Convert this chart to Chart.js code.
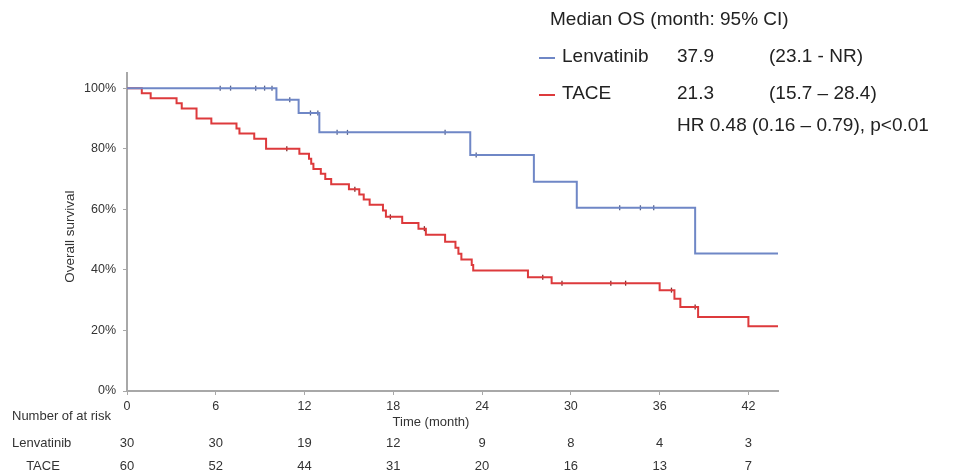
<!DOCTYPE html>
<html>
<head>
<meta charset="utf-8">
<script src="https://cdn.jsdelivr.net/npm/chart.js@4.4.1/dist/chart.umd.min.js"></script>
<style>
  html, body { margin: 0; padding: 0; background: #fff; }
  canvas { display: block; }
</style>
</head>
<body>
<canvas id="km" width="958" height="475"></canvas>
<script>
// tick positions (months) and the numbers at risk below them
const months = [0, 6, 12, 18, 24, 30, 36, 42];
const riskLenvatinib = [30, 30, 19, 12, 9, 8, 4, 3];
const riskTace = [60, 52, 44, 31, 20, 16, 13, 7];

// Kaplan-Meier steps: time of drop (month) and survival (%) after it
const lenvTimes = [0, 10.1, 11.6, 13.0, 23.2, 27.5, 30.4, 38.4, 44];
const lenvSurv = [100, 96.2, 91.8, 85.4, 77.9, 69.1, 60.5, 45.4, 45.4];
const lenvCensored = [6.3, 7.0, 8.7, 9.3, 9.8, 11.0, 12.4, 12.9, 14.2, 14.9, 21.5, 23.6, 33.3, 34.7, 35.6];

const taceTimes = [0, 1.0, 1.6, 3.35, 3.7, 4.7, 5.7, 7.4, 7.6, 8.6,
    9.4, 11.65, 12.3, 12.45, 12.6, 13.1, 13.4, 13.8, 15.0, 15.7,
    16.0, 16.4, 17.3, 17.5, 18.6, 19.7, 20.2, 21.5, 22.2, 22.4,
    22.6, 23.3, 23.4, 27.1, 28.7, 36.0, 37.0, 37.4, 38.6, 42.0, 44];
const taceSurv = [100, 98.3, 96.7, 95.0, 93.3, 90.0, 88.3, 86.7, 85.0, 83.3,
    80.0, 78.3, 76.7, 75.0, 73.3, 71.7, 70.0, 68.3, 66.6, 64.9,
    63.2, 61.5, 59.6, 57.5, 55.5, 53.6, 51.6, 49.3, 47.3, 45.3,
    43.4, 41.6, 39.8, 37.6, 35.6, 33.3, 30.5, 27.7, 24.4, 21.4, 21.4];
const taceCensored = [10.8, 15.4, 17.8, 20.1, 28.1, 29.4, 32.7, 33.7, 36.8, 38.4];

const yTicks = [0, 20, 40, 60, 80, 100];

const BLUE = '#6f87c6';
const RED = '#dd3a3c';
const FONT = "'Liberation Sans', Arial, sans-serif";

function toPoints(times, surv) {
    return times.map((t, i) => ({ x: t, y: surv[i] }));
}

function survivalAt(times, surv, t) {
    let s = surv[0];
    for (let i = 0; i < times.length; i++) {
        if (times[i] <= t) s = surv[i];
    }
    return s;
}

function censorPoints(list, times, surv) {
    return list.map(t => ({ x: t, y: survivalAt(times, surv, t) }));
}

const textPlugin = {
    id: 'kmText',
    afterDraw(chart) {
        const ctx = chart.ctx;
        const x = chart.scales.x;
        const y = chart.scales.y;
        ctx.save();
        ctx.fillStyle = '#333';
        ctx.textBaseline = 'middle';

        // y axis title
        ctx.save();
        ctx.translate(70, (y.getPixelForValue(0) + y.getPixelForValue(100)) / 2 - 3);
        ctx.rotate(-Math.PI / 2);
        ctx.textAlign = 'center';
        ctx.font = '13.5px ' + FONT;
        ctx.fillText('Overall survival', 0, 0);
        ctx.restore();

        // x axis title
        ctx.textAlign = 'center';
        ctx.font = '13px ' + FONT;
        ctx.fillText('Time (month)', 431, 422);

        // numbers at risk
        ctx.textAlign = 'left';
        ctx.fillText('Number of at risk', 12, 416);
        ctx.fillText('Lenvatinib', 12, 443);
        ctx.textAlign = 'center';
        ctx.fillText('TACE', 43, 466);
        months.forEach((m, i) => {
            const px = x.getPixelForValue(m);
            ctx.fillText(String(riskLenvatinib[i]), px, 443);
            ctx.fillText(String(riskTace[i]), px, 466);
        });

        // median OS legend
        ctx.textAlign = 'left';
        ctx.fillStyle = '#222';
        ctx.font = '19px ' + FONT;
        ctx.fillText('Median OS (month: 95% CI)', 550, 20);
        ctx.fillText('Lenvatinib', 562, 57);
        ctx.fillText('37.9', 677, 57);
        ctx.fillText('(23.1 - NR)', 769, 57);
        ctx.fillText('TACE', 562, 94);
        ctx.fillText('21.3', 677, 94);
        ctx.fillText('(15.7 \u2013 28.4)', 769, 94);
        ctx.fillText('HR 0.48 (0.16 \u2013 0.79), p<0.01', 677, 126);

        ctx.lineWidth = 2;
        ctx.strokeStyle = BLUE;
        ctx.beginPath();
        ctx.moveTo(539, 58);
        ctx.lineTo(555, 58);
        ctx.stroke();
        ctx.strokeStyle = RED;
        ctx.beginPath();
        ctx.moveTo(539, 95);
        ctx.lineTo(555, 95);
        ctx.stroke();
        ctx.restore();
    }
};

const ctx = document.getElementById('km').getContext('2d');

new Chart(ctx, {
    type: 'line',
    data: {
        datasets: [{
            label: 'Lenvatinib',
            data: toPoints(lenvTimes, lenvSurv),
            borderColor: BLUE,
            borderWidth: 2,
            stepped: true,
            pointRadius: 0,
            fill: false
        }, {
            label: 'TACE',
            data: toPoints(taceTimes, taceSurv),
            borderColor: RED,
            borderWidth: 2,
            stepped: true,
            pointRadius: 0,
            fill: false
        }, {
            label: 'Lenvatinib censored',
            type: 'scatter',
            data: censorPoints(lenvCensored, lenvTimes, lenvSurv),
            pointStyle: 'line',
            rotation: 90,
            radius: 2.5,
            borderColor: '#55608a',
            borderWidth: 1.3,
            showLine: false
        }, {
            label: 'TACE censored',
            type: 'scatter',
            data: censorPoints(taceCensored, taceTimes, taceSurv),
            pointStyle: 'line',
            rotation: 90,
            radius: 2.5,
            borderColor: '#7a2a2a',
            borderWidth: 1.3,
            showLine: false
        }]
    },
    options: {
        responsive: false,
        animation: false,
        layout: {
            padding: { left: 0, right: 180, top: 73, bottom: 0 }
        },
        plugins: {
            legend: { display: false },
            tooltip: { enabled: false }
        },
        scales: {
            x: {
                type: 'linear',
                min: 0,
                max: 44,
                afterBuildTicks: scale => {
                    scale.ticks = months.map(v => ({ value: v }));
                },
                afterFit: scale => { scale.height = 84; },
                border: { color: '#a8a8a8', width: 2 },
                grid: {
                    drawOnChartArea: false,
                    color: '#a8a8a8',
                    tickLength: 4
                },
                ticks: {
                    color: '#333',
                    padding: 4,
                    maxRotation: 0,
                    font: { family: FONT, size: 12.5 }
                }
            },
            y: {
                min: 0,
                max: 105,
                afterBuildTicks: scale => {
                    scale.ticks = yTicks.map(v => ({ value: v }));
                },
                afterFit: scale => { scale.width = 127; },
                border: { color: '#a8a8a8', width: 2 },
                grid: {
                    drawOnChartArea: false,
                    color: '#a8a8a8',
                    tickLength: 4
                },
                ticks: {
                    color: '#333',
                    padding: 7,
                    font: { family: FONT, size: 12.5 },
                    callback: v => v + '%'
                }
            }
        }
    },
    plugins: [textPlugin]
});
</script>
</body>
</html>
